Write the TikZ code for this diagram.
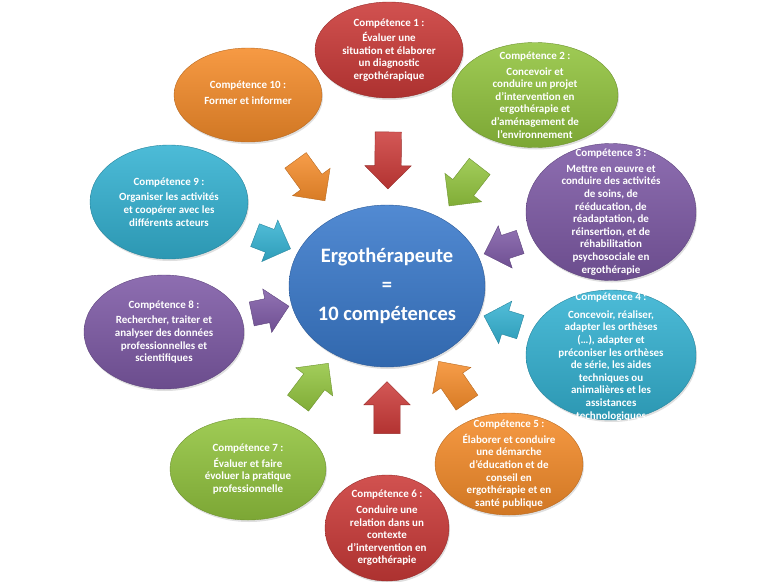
\documentclass[tikz,border=0pt]{standalone}
\usepackage{fontspec}
\setmainfont{Carlito}
\usetikzlibrary{shapes.geometric,shapes.arrows,shadows}
\definecolor{compred}{RGB}{203,58,56}
\definecolor{compgreen}{RGB}{146,196,62}
\definecolor{comppurple}{RGB}{126,90,166}
\definecolor{compcyan}{RGB}{52,178,210}
\definecolor{comporange}{RGB}{245,140,42}
\definecolor{ergoblue}{RGB}{58,122,204}
\begin{document}
\begin{tikzpicture}[x=1pt,y=-1pt,
    comp/.style={ellipse,inner sep=0pt,draw=#1!75!black,line width=0.4pt,
      top color=#1!88!white,bottom color=#1!85!black,
      drop shadow={opacity=0.25,shadow xshift=1pt,shadow yshift=-2pt}},
    comptext/.style={text=white,font=\bfseries\fontsize{11}{12.6}\selectfont,align=center},
    flow/.style={single arrow,inner xsep=0pt,inner ysep=13pt,minimum height=50pt,
      single arrow head extend=10pt,sloped,allow upside down,draw=#1!75!black,
      top color=#1!85!white,bottom color=#1!88!black}]
    \useasboundingbox (0,0) rectangle (775,581);
    % centre
    \node[comp=ergoblue,minimum width=196,minimum height=162] (ergo) at (387,286) {};
    \node[text=white,font=\bfseries\fontsize{20.5}{29}\selectfont,align=center] (ergotext) at (ergo) {Ergothérapeute\\=\\10 compétences};
    % competences
    \node[comp=compred,minimum width=148,minimum height=96] (c1) at (389,50) {};
    \node[comptext] (t1) at (c1) {Compétence 1 :\\[3pt]Évaluer une\\situation et élaborer\\un diagnostic\\ergothérapique};
    \node[comp=compgreen,minimum width=166,minimum height=105] (c2) at (535,95) {};
    \node[comptext] (t2) at (c2) {Compétence 2 :\\[3pt]Concevoir et\\conduire un projet\\d’intervention en\\ergothérapie et\\d’aménagement de\\l’environnement};
    \node[comp=comppurple,minimum width=170,minimum height=137] (c3) at (611,212) {};
    \node[comptext] (t3) at (c3) {Compétence 3 :\\[3pt]Mettre en œuvre et\\conduire des activités\\de soins, de\\rééducation, de\\réadaptation, de\\réinsertion, et de\\réhabilitation\\psychosociale en\\ergothérapie};
    \node[comp=compcyan,minimum width=170,minimum height=130] (c4) at (611,355) {};
    \node[comptext] (t4) at (611,357) {Compétence 4 :\\[5pt]Concevoir, réaliser,\\adapter les orthèses\\(…), adapter et\\préconiser les orthèses\\de série, les aides\\techniques ou\\animalières et les\\assistances\\technologiques};
    \node[comp=comporange,minimum width=148,minimum height=102] (c5) at (509,464) {};
    \node[comptext] (t5) at (c5) {Compétence 5 :\\[3pt]Élaborer et conduire\\une démarche\\d’éducation et de\\conseil en\\ergothérapie et en\\santé publique};
    \node[comp=compred,minimum width=124,minimum height=106] (c6) at (387,528) {};
    \node[comptext] (t6) at (c6) {Compétence 6 :\\[3pt]Conduire une\\relation dans un\\contexte\\d’intervention en\\ergothérapie};
    \node[comp=compgreen,minimum width=156,minimum height=102] (c7) at (248,469) {};
    \node[comptext] (t7) at (c7) {Compétence 7 :\\[3pt]Évaluer et faire\\évoluer la pratique\\professionnelle};
    \node[comp=comppurple,minimum width=160,minimum height=114] (c8) at (164,332) {};
    \node[comptext] (t8) at (c8) {Compétence 8 :\\[3pt]Rechercher, traiter et\\analyser des données\\professionnelles et\\scientifiques};
    \node[comp=compcyan,minimum width=158,minimum height=114] (c9) at (169,202) {};
    \node[comptext] (t9) at (c9) {Compétence 9 :\\[3pt]Organiser les activités\\et coopérer avec les\\différents acteurs};
    \node[comp=comporange,minimum width=148,minimum height=94] (c10) at (248,95) {};
    \node[comptext] (t10) at (248,93) {Compétence 10 :\\[3pt]Former et informer};
    % arrows
    \path (c1.center) -- node[flow=compred,pos=0.44,minimum height=57pt] (a1) {} (ergo.center);
    \path (c2.center) -- node[flow=compgreen,pos=0.45] (a2) {} (ergo.center);
    \path (c3.center) -- node[flow=comppurple,pos=0.46,minimum height=38pt,inner ysep=12pt] (a3) {} (ergo.center);
    \path (c4.center) -- node[flow=compcyan,pos=0.46,minimum height=38pt,inner ysep=12pt] (a4) {} (ergo.center);
    \path (c5.center) -- node[flow=comporange,pos=0.43] (a5) {} (ergo.center);
    \path (c6.center) -- node[flow=compred,pos=0.47,minimum height=52pt] (a6) {} (ergo.center);
    \path (c7.center) -- node[flow=compgreen,pos=0.44] (a7) {} (ergo.center);
    \path (c8.center) -- node[flow=comppurple,pos=0.45,minimum height=38pt,inner ysep=12pt] (a8) {} (ergo.center);
    \path (c9.center) -- node[flow=compcyan,pos=0.45,minimum height=38pt,inner ysep=12pt] (a9) {} (ergo.center);
    \path (c10.center) -- node[flow=comporange,pos=0.42] (a10) {} (ergo.center);
\end{tikzpicture}
\end{document}
